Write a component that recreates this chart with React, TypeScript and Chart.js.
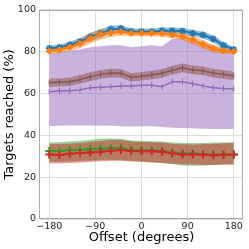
import React, { useEffect, useRef } from "react";
import { Chart, registerables } from "chart.js";

Chart.register(...registerables);

const offsets = [-180, -160, -140, -120, -100, -80, -60, -40, -20, 0, 20, 40, 60, 80, 100, 120, 140, 160, 180];
const xTicks = [-180, -90, 0, 90, 180];
const yTicks = [0, 20, 40, 60, 80, 100];

const blueMean = [81.6, 82.0, 83.2, 84.7, 87.0, 88.6, 90.6, 91.0, 89.6, 89.5, 89.5, 90.0, 90.0, 89.8, 88.8, 87.9, 86.0, 83.0, 81.0];
const blueLow = [80.3, 80.7, 81.7, 82.9, 85.0, 86.6, 88.8, 89.4, 88.1, 88.0, 88.0, 88.5, 88.5, 88.3, 87.3, 86.3, 84.2, 81.5, 79.7];
const blueHigh = [82.9, 83.3, 84.7, 86.5, 89.0, 90.6, 92.4, 92.6, 91.1, 91.0, 91.0, 91.5, 91.5, 91.3, 90.3, 89.5, 87.8, 84.5, 82.3];

const orangeMean = [80.3, 80.8, 82.2, 83.8, 86.3, 88.3, 88.9, 89.5, 88.8, 88.8, 88.8, 88.6, 88.0, 87.2, 85.5, 83.5, 81.3, 80.4, 80.0];
const orangeLow = [78.8, 79.2, 80.4, 81.6, 83.8, 85.8, 86.9, 87.7, 87.3, 87.3, 87.3, 87.1, 86.4, 85.4, 83.5, 81.5, 79.5, 78.9, 78.7];
const orangeHigh = [81.8, 82.4, 84.0, 86.0, 88.8, 90.8, 90.9, 91.3, 90.3, 90.3, 90.3, 90.1, 89.6, 89.0, 87.5, 85.5, 83.1, 81.9, 81.3];

const purpleMean = [60.8, 61.1, 61.3, 61.6, 62.7, 63.0, 63.2, 63.6, 63.6, 63.9, 63.9, 63.2, 65.6, 65.6, 64.6, 63.6, 62.7, 62.4, 62.1];
const purpleLow = [44.3, 44.5, 44.7, 44.7, 44.7, 44.6, 44.5, 44.3, 44.2, 44.3, 44.3, 44.0, 43.6, 43.5, 43.4, 43.1, 43.0, 43.0, 43.0];
const purpleHigh = [79.0, 80.0, 80.5, 81.0, 82.0, 82.5, 83.0, 83.0, 82.0, 82.5, 83.0, 82.5, 86.0, 86.3, 85.5, 84.5, 83.0, 81.0, 80.0];

const brownMean = [65.1, 65.3, 65.6, 66.7, 68.0, 69.1, 69.7, 69.6, 67.6, 68.2, 68.8, 69.6, 71.1, 72.2, 71.2, 70.8, 69.7, 69.1, 68.4];
const brownLow = [63.1, 63.3, 63.6, 64.6, 65.9, 67.0, 67.6, 67.5, 65.6, 66.2, 66.8, 67.5, 69.0, 70.1, 69.1, 68.7, 67.6, 67.0, 66.4];
const brownHigh = [67.1, 67.3, 67.6, 68.8, 70.1, 71.2, 71.8, 71.7, 69.6, 70.2, 70.8, 71.7, 73.2, 74.3, 73.3, 72.9, 71.8, 71.2, 70.4];

const greenMean = [32.5, 32.5, 33.0, 33.0, 33.3, 33.6, 33.8, 33.8, 33.0, 33.0, 33.0, 32.4, 31.8, 31.4, 31.3, 31.1, 30.8, 30.8, 30.8];
const greenLow = [27.4, 27.3, 27.5, 27.8, 28.0, 28.2, 28.3, 28.2, 27.8, 27.5, 27.2, 26.8, 26.3, 25.6, 25.5, 25.6, 25.8, 26.0, 26.0];
const greenHigh = [36.5, 36.7, 37.0, 37.3, 37.8, 38.3, 38.5, 38.3, 37.5, 37.3, 37.2, 37.0, 36.5, 36.3, 36.2, 36.3, 36.4, 36.5, 36.5];

const redMean = [30.8, 30.6, 31.2, 31.5, 31.8, 32.1, 32.6, 33.0, 32.5, 32.4, 32.4, 32.1, 31.4, 30.8, 30.8, 30.8, 30.4, 30.7, 30.8];
const redLow = [26.5, 26.6, 26.8, 27.0, 27.3, 27.6, 27.8, 27.8, 27.5, 27.3, 27.0, 26.8, 26.4, 26.2, 26.0, 25.8, 25.8, 26.0, 26.0];
const redHigh = [35.7, 35.8, 36.0, 36.3, 36.8, 37.3, 37.7, 37.7, 37.0, 36.8, 36.7, 36.5, 36.0, 35.7, 35.6, 35.7, 35.9, 36.2, 36.5];

const toPts = (ys: number[]) => offsets.map((x, i) => ({ x, y: ys[i] }));

type Series = {
  mean: number[];
  low: number[];
  high: number[];
  color: string;
  band: string;
  pointStyle: any;
  radius: number;
  width: number;
  pointWidth: number;
  rotation?: number;
  bandOrder: number;
  lineOrder: number;
};

const FONT = "'DejaVu Sans', sans-serif";

export default function App() {
  const ref = useRef<HTMLCanvasElement | null>(null);

  useEffect(() => {
    if (!ref.current) return;
    const series: Series[] = [
      { mean: greenMean, low: greenLow, high: greenHigh, color: "#2ca02c", band: "rgba(44,160,44,0.5)", pointStyle: "cross", radius: 4, width: 2, pointWidth: 2, bandOrder: 60, lineOrder: 6, },
      { mean: redMean, low: redLow, high: redHigh, color: "#d62728", band: "rgba(214,39,40,0.5)", pointStyle: "cross", radius: 4, width: 2, pointWidth: 2, bandOrder: 59, lineOrder: 5 },
      { mean: purpleMean, low: purpleLow, high: purpleHigh, color: "#9467bd", band: "rgba(148,103,189,0.5)", pointStyle: "line", rotation: 90, radius: 3, width: 1.5, pointWidth: 1, bandOrder: 58, lineOrder: 4 },
      { mean: brownMean, low: brownLow, high: brownHigh, color: "#8c564b", band: "rgba(140,86,75,0.5)", pointStyle: "line", rotation: 90, radius: 3, width: 1.5, pointWidth: 1, bandOrder: 57, lineOrder: 3 },
      { mean: blueMean, low: blueLow, high: blueHigh, color: "#1f77b4", band: "rgba(31,119,180,0.5)", pointStyle: "star", radius: 3.5, width: 2, pointWidth: 1.5, bandOrder: 56, lineOrder: 2 },
      { mean: orangeMean, low: orangeLow, high: orangeHigh, color: "#ff7f0e", band: "rgba(255,127,14,0.5)", pointStyle: "rectRot", radius: 3.2, width: 2, pointWidth: 1, bandOrder: 55, lineOrder: 1 },
    ];

    const datasets: any[] = [];
    series.forEach((s) => {
      datasets.push({
        data: toPts(s.high),
        borderWidth: 0,
        pointRadius: 0,
        backgroundColor: s.band,
        borderColor: "rgba(0,0,0,0)",
        fill: "+1",
        order: s.bandOrder,
        tension: 0,
      });
      datasets.push({
        data: toPts(s.low),
        borderWidth: 0,
        pointRadius: 0,
        borderColor: "rgba(0,0,0,0)",
        fill: false,
        order: s.bandOrder,
      });
      datasets.push({
        data: toPts(s.mean),
        borderColor: s.color,
        backgroundColor: s.color,
        borderWidth: s.width,
        pointStyle: s.pointStyle,
        pointRadius: s.radius,
        pointBorderWidth: s.pointWidth,
        pointBorderColor: s.color,
        pointBackgroundColor: s.color,
        pointRotation: s.rotation || 0,
        fill: false,
        order: s.lineOrder,
      });
    });

    const frame = {
      id: "frame",
      afterDraw(chart: any) {
        const { ctx, chartArea } = chart;
        ctx.save();
        ctx.strokeStyle = "#a8a8a8";
        ctx.lineWidth = 1;
        ctx.strokeRect(
          Math.round(chartArea.left) - 0.5,
          Math.round(chartArea.top) + 0.5,
          Math.round(chartArea.right - chartArea.left),
          Math.round(chartArea.bottom - chartArea.top) - 1
        );
        ctx.restore();
      },
    };

    const fmt = (v: number) => (v < 0 ? "\u2212" + Math.abs(v) : String(v));

    const chart = new Chart(ref.current, {
      type: "line",
      data: { datasets },
      plugins: [frame],
      options: {
        responsive: false,
        animation: false,
        events: [],
        layout: { padding: { top: 7, right: 5, left: 0, bottom: 0 } },
        plugins: {
          legend: { display: false },
          tooltip: { enabled: false },
        },
        scales: {
          x: {
            type: "linear",
            min: -198,
            max: 198,
            afterBuildTicks: (axis: any) => {
              axis.ticks = xTicks.map((v) => ({ value: v }));
            },
            afterFit: (axis: any) => {
              axis.height = 30;
            },
            grid: { color: "#dedede", lineWidth: 1, drawTicks: false },
            border: { display: false },
            ticks: {
              padding: 2,
              color: "#222",
              font: { family: FONT, size: 9.5 },
              maxRotation: 0,
              callback: (v: any) => fmt(Number(v)),
            },
            title: {
              display: true,
              text: "Offset (degrees)",
              color: "#000",
              font: { family: FONT, size: 13 },
              padding: { top: 0, bottom: 4 },
            },
          },
          y: {
            type: "linear",
            min: 0,
            max: 100,
            afterBuildTicks: (axis: any) => {
              axis.ticks = yTicks.map((v) => ({ value: v }));
            },
            afterFit: (axis: any) => {
              axis.width = 40;
            },
            grid: { color: "#dedede", lineWidth: 1, drawTicks: false },
            border: { display: false },
            ticks: {
              padding: 4,
              color: "#222",
              font: { family: FONT, size: 9.5 },
              callback: (v: any) => fmt(Number(v)),
            },
            title: {
              display: true,
              text: "Targets reached (%)",
              color: "#000",
              font: { family: FONT, size: 13 },
              padding: { top: 2, bottom: 0 },
            },
          },
        },
      } as any,
    });
    return () => chart.destroy();
  }, []);

  return (
    <div style={{ position: "fixed", left: 0, top: 0, width: 249, height: 249, background: "#fff" }}>
      <canvas ref={ref} width={249} height={249} style={{ width: 249, height: 249 }} />
    </div>
  );
}
